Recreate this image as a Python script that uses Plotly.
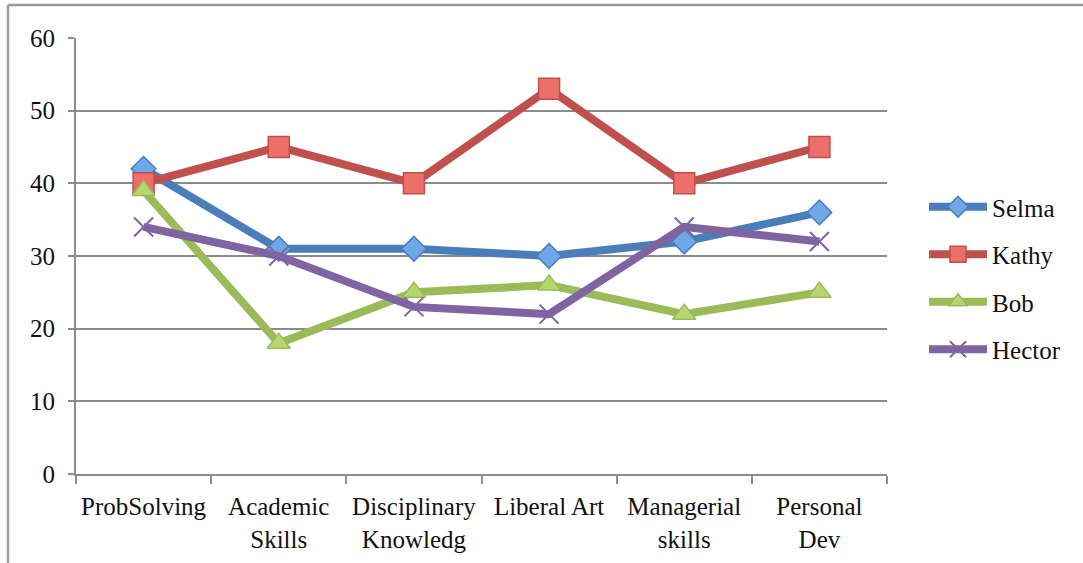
import plotly.graph_objects as go

categories = ["ProbSolving", "Academic<br>Skills", "Disciplinary<br>Knowledg", "Liberal Art",
              "Managerial<br>skills", "Personal<br>Dev"]
selma = [42, 31, 31, 30, 32, 36]
kathy = [40, 45, 40, 53, 40, 45]
bob = [39, 18, 25, 26, 22, 25]
hector = [34, 30, 23, 22, 34, 32]
y_ticks = [0, 10, 20, 30, 40, 50, 60]

FONT = "Liberation Serif, Times New Roman, serif"
FS = 25
W, H = 1083, 563
L, R, T, B = 76, 196, 38, 89
pw, ph = W - L - R, H - T - B

series = [
    ("Selma", selma, "#4A7EBB", "#6FA8E8", "diamond", 19),
    ("Kathy", kathy, "#C0504D", "#EE6E69", "square", 21),
    ("Bob", bob, "#9BBB59", "#B5D86E", "triangle-up", 20),
    ("Hector", hector, "#8064A2", "#8064A2", "x-thin-open", 19),
]

fig = go.Figure()
for name, vals, line_c, fill_c, sym, size in series:
    if sym == "x-thin-open":
        marker = dict(symbol=sym, size=size, color=line_c, line=dict(color=line_c, width=2))
    else:
        marker = dict(symbol=sym, size=size, color=fill_c, line=dict(color=line_c, width=1.5))
    fig.add_trace(go.Scatter(
        x=categories, y=vals, name=name, mode="lines+markers",
        line=dict(color=line_c, width=8), marker=marker,
        legendgroup=name, cliponaxis=False,
    ))

def px_x(p):
    return (p - L) / pw

def px_y(p):
    return (H - B - p) / ph

# outer frame (top and left edges)
fig.add_shape(type="line", xref="paper", yref="paper",
              x0=px_x(8), x1=px_x(W), y0=px_y(5), y1=px_y(5),
              line=dict(color="#9a9a9a", width=2.5))
fig.add_shape(type="line", xref="paper", yref="paper",
              x0=px_x(8), x1=px_x(8), y0=px_y(5), y1=px_y(H),
              line=dict(color="#9a9a9a", width=2.5))

tick_font = dict(family=FONT, size=FS, color="#111")

fig.update_layout(
    width=W, height=H,
    margin=dict(l=L, r=R, t=T, b=B, autoexpand=False),
    paper_bgcolor="white", plot_bgcolor="white",
    font=dict(family=FONT, size=FS, color="#111"),
    showlegend=True,
    legend=dict(x=px_x(924), xanchor="left", y=px_y(184), yanchor="top",
                font=dict(family=FONT, size=FS, color="#111"), itemwidth=58,
                tracegroupgap=12, bgcolor="rgba(0,0,0,0)"),
    xaxis=dict(type="category", range=[-0.5, 5.5], showgrid=False,
               showline=True, linecolor="#8c8c8c", linewidth=2,
               ticks="outside", tickson="boundaries", ticklen=8,
               tickcolor="#8c8c8c", tickwidth=2, tickfont=tick_font,
               ticklabelstandoff=9, tickangle=0, automargin=False,
               fixedrange=True),
    yaxis=dict(range=[0, 60], tickvals=y_ticks, showgrid=True,
               gridcolor="#8c8c8c", gridwidth=2, zeroline=False,
               showline=True, linecolor="#8c8c8c", linewidth=2,
               ticks="outside", ticklen=6, tickcolor="#8c8c8c", tickwidth=2,
               ticklabelstandoff=8, tickfont=tick_font, automargin=False,
               fixedrange=True),
)

fig.write_html("out.html")
